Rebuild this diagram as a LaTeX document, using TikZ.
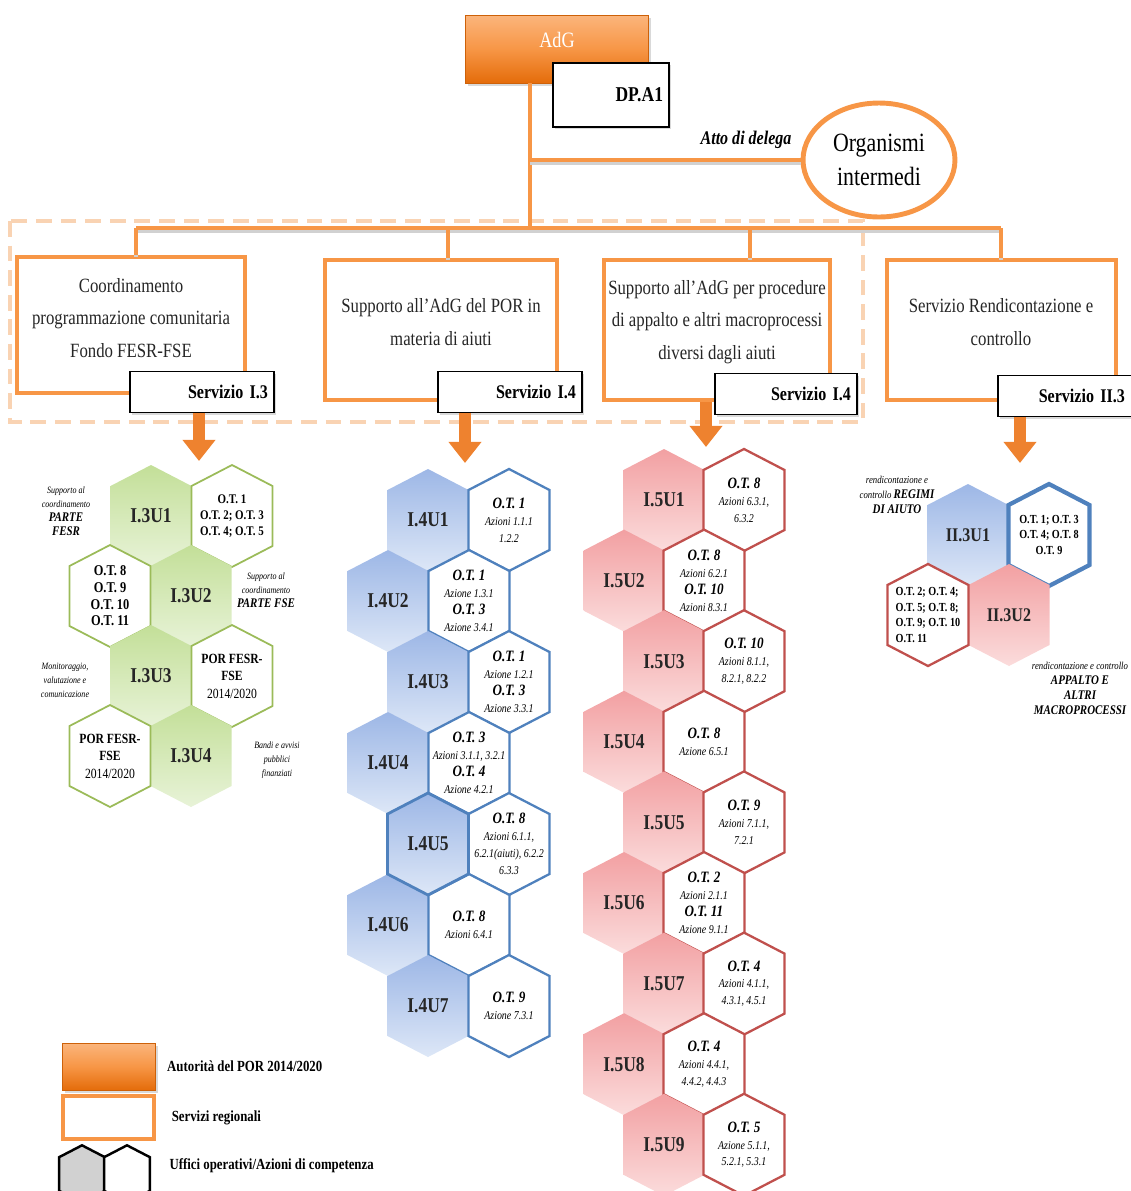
\documentclass[tikz,border=0pt]{standalone}
\usepackage{fontspec}
\setmainfont[FakeStretch=0.83]{Liberation Serif}
\usetikzlibrary{positioning,arrows.meta,shapes.geometric,shadows}

\definecolor{orgline}{HTML}{F79646}
\definecolor{orgdark}{HTML}{E46C0A}
\definecolor{orgtop}{HTML}{FBB57C}
\definecolor{orgarrow}{HTML}{EE822F}
\definecolor{dashorg}{HTML}{F9D3B3}
\definecolor{grnA}{HTML}{C3DF98}
\definecolor{grnB}{HTML}{E8F3D8}
\definecolor{grnline}{HTML}{9BBB59}
\definecolor{bluA}{HTML}{9DB7E6}
\definecolor{bluB}{HTML}{DDE7F7}
\definecolor{bluline}{HTML}{4F81BD}
\definecolor{pnkA}{HTML}{F2A0A2}
\definecolor{pnkB}{HTML}{FBDCDC}
\definecolor{pnkline}{HTML}{C0504D}

\newcommand{\hexcell}[3][]{%
  \path[shift={(#2,#3)}, #1] (0,-51) -- (40.5,-30) -- (40.5,30) -- (0,51) -- (-40.5,30) -- (-40.5,-30) -- cycle;}
\newcommand{\otnum}[1]{{\fontsize{9}{9.6}\selectfont\bfseries O.T. #1}}
\newcommand{\sidebig}[1]{{\fontsize{7.5}{9}\selectfont\bfseries #1}}

\tikzset{every picture/.style={line width=0.75pt}}
\tikzset{
  link/.style={draw=orgline, line width=2.6pt,
    preaction={draw=black!18, line width=2.6pt, transform canvas={shift={(0pt,-1.6pt)}}}},
  ufficio/.style={draw=orgline, line width=2.8pt, fill=white, inner sep=0pt,
    drop shadow={shadow xshift=1.2pt, shadow yshift=-1.2pt, opacity=0.25}},
  boxtext/.style={font=\fontsize{11.5}{18.5}\selectfont, align=center, text=black!85},
  servizio/.style={draw=black, line width=1.1pt, fill=white, align=right, inner xsep=0.12cm,
    minimum height=0.82cm, font=\fontsize{11}{13}\selectfont\bfseries,
    drop shadow={shadow xshift=1.2pt, shadow yshift=-1.2pt, opacity=0.3}},
  adgbox/.style={top color=orgtop, bottom color=orgdark, middle color=orgline,
    draw=orgdark!90!black, line width=0.5pt,
    drop shadow={shadow xshift=1.5pt, shadow yshift=-1.5pt, opacity=0.3}},
  bigarrow/.style={draw=orgarrow, line width=6.5pt, -{Triangle[width=18pt, length=12pt]}},
  grnhex/.style={top color=grnA, bottom color=grnB},
  grnwhite/.style={draw=grnline, line width=1pt, fill=white},
  bluhex/.style={top color=bluA, bottom color=bluB},
  bluwhite/.style={draw=bluline, line width=1.3pt, fill=white},
  pnkhex/.style={top color=pnkA, bottom color=pnkB},
  pnkwhite/.style={draw=pnkline, line width=1.3pt, fill=white},
  hexlabel/.style={font=\fontsize{12}{14}\selectfont\bfseries, text=black!85},
  hexnote/.style={font=\fontsize{6.8}{9.6}\selectfont\itshape, align=center, inner sep=0pt},
  sidenote/.style={font=\fontsize{5.5}{8}\selectfont\itshape, align=center, inner sep=0pt},
  legtext/.style={font=\fontsize{8.8}{10}\selectfont\bfseries}
}

\begin{document}
\begin{tikzpicture}[x=0.02cm, y=-0.02cm]
  \useasboundingbox (0,0) rectangle (1131,1191);
  \clip (0,0) rectangle (1131,1191);

  % area tratteggiata
  \draw[dashorg, line width=2pt, dash pattern=on 9pt off 5pt] (10,221) rectangle (863,422);

  % vertice
  \node[adgbox, minimum width=3.66cm, minimum height=1.36cm] (adg) at (557,49) {};
  \node[font=\fontsize{12.5}{14}\selectfont, text=white] (adgname) at (557,40) {AdG};
  \node[servizio, text width=2.08cm, minimum height=1.28cm, font=\fontsize{12}{14}\selectfont\bfseries] (dpa) at (611,95) {DP.A1};
  \node[ellipse, draw=orgline, line width=2.8pt, fill=white, minimum width=3.04cm, minimum height=2.28cm,
        align=center, inner sep=0pt, font=\fontsize{15}{19}\selectfont] (organismi) at (879,160) {Organismi\\intermedi};
  \node[font=\fontsize{11}{13}\selectfont\bfseries\itshape, anchor=east] (delega) at (798,140) {Atto di delega};

  % servizi regionali
  \node[ufficio, minimum width=4.56cm, minimum height=2.72cm] (coord) at (131,325) {};
  \node[ufficio, minimum width=4.64cm, minimum height=2.8cm] (aiuti) at (441,330) {};
  \node[ufficio, minimum width=4.52cm, minimum height=2.8cm] (appalti) at (717,330) {};
  \node[ufficio, minimum width=4.58cm, minimum height=2.8cm] (rendic) at (1001.5,330) {};
  \node[boxtext] (coordtxt) at (131,318) {Coordinamento\\programmazione comunitaria\\Fondo FESR-FSE};
  \node[boxtext] (aiutitxt) at (441,322) {Supporto all’AdG del POR in\\materia di aiuti};
  \node[boxtext] (appaltitxt) at (717,322) {Supporto all’AdG per procedure\\di appalto e altri macroprocessi\\diversi dagli aiuti};
  \node[boxtext] (rendictxt) at (1001,322) {Servizio Rendicontazione e\\controllo};
  \node[servizio, text width=2.64cm] (serv13) at (202,392) {Servizio I.3};
  \node[servizio, text width=2.64cm] (serv14) at (510,392) {Servizio I.4};
  \node[servizio, text width=2.6cm] (serv15) at (786,394) {Servizio I.4};
  \node[servizio, text width=2.24cm, inner xsep=0.3cm] (serv23) at (1069,396) {Servizio II.3};

  % collegamenti
  \coordinate (j0) at (530,160);
  \coordinate (j1) at (530,228);
  \coordinate (b1) at (136,228);
  \coordinate (b2) at (448,228);
  \coordinate (b3) at (750,228);
  \coordinate (b4) at (1001,228);
  \draw[link] (adg.south -| j1) -- (j1);
  \draw[link] (j0) -- (organismi.west);
  \draw[link] (b1) -- (b4);
  \foreach \b/\u in {b1/coord, b2/aiuti, b3/appalti, b4/rendic}
    \draw[link] (\b) -- (\b |- \u.north);

  % frecce verso gli uffici
  \coordinate (a13) at (199,461);
  \coordinate (a14) at (465,463);
  \coordinate (a15) at (706,447);
  \coordinate (a23) at (1020,463);
  \draw[bigarrow] (serv13.south -| a13) -- (a13);
  \draw[bigarrow] (serv14.south -| a14) -- (a14);
  \draw[bigarrow] (appalti.south -| a15) -- (a15);
  \draw[bigarrow] (serv23.south -| a23) -- (a23);

  % Servizio I.3
  \foreach \k [count=\n] in {0,...,3} {
    \pgfmathsetmacro\yy{516+80*\k}
    \pgfmathsetmacro\xx{isodd(\k) ? 191 : 151}
    \pgfmathsetmacro\ww{isodd(\k) ? 110 : 232}
    \hexcell[grnhex]{\xx}{\yy}
    \hexcell[grnwhite]{\ww}{\yy}
    \node[hexlabel] (i3u\n) at (\xx,\yy) {I.3U\n};
  }
  \node[hexnote, font=\fontsize{7.5}{9}\selectfont\bfseries] (i3n1) at (232,516) {O.T. 1\\O.T. 2; O.T. 3\\O.T. 4; O.T. 5};
  \node[hexnote, font=\fontsize{8.5}{9.5}\selectfont\bfseries] (i3n2) at (110,596) {O.T. 8\\O.T. 9\\O.T. 10\\O.T. 11};
  \node[hexnote, font=\fontsize{8}{10}\selectfont] (i3n3) at (232,676) {\textbf{POR FESR-}\\\textbf{FSE}\\2014/2020};
  \node[hexnote, font=\fontsize{8}{10}\selectfont] (i3n4) at (110,756) {\textbf{POR FESR-}\\\textbf{FSE}\\2014/2020};
  \node[sidenote] (i3s1) at (66,511) {Supporto al\\coordinamento\\\sidebig{PARTE}\\\sidebig{FESR}};
  \node[sidenote] (i3s2) at (266,590) {Supporto al\\coordinamento\\\sidebig{PARTE FSE}};
  \node[sidenote] (i3s3) at (65,680) {Monitoraggio,\\valutazione e\\comunicazione};
  \node[sidenote] (i3s4) at (277,760) {Bandi e avvisi\\pubblici\\finanziati};

  % Servizio I.4 - aiuti
  \foreach \k [count=\n] in {0,...,6} {
    \pgfmathsetmacro\yy{520+81*\k}
    \pgfmathsetmacro\xx{isodd(\k) ? 388 : 428}
    \hexcell[bluhex]{\xx}{\yy}
    \hexcell[bluwhite]{\xx+81}{\yy}
    \node[hexlabel] (i4u\n) at (\xx,\yy) {I.4U\n};
  }
  \hexcell[draw=bluline, line width=1.6pt]{428}{844}
  \node[hexnote] (i4n1) at (509,520) {\otnum{1}\\Azioni 1.1.1\\1.2.2};
  \node[hexnote] (i4n2) at (469,601) {\otnum{1}\\Azione 1.3.1\\\otnum{3}\\Azione 3.4.1};
  \node[hexnote] (i4n3) at (509,682) {\otnum{1}\\Azione 1.2.1\\\otnum{3}\\Azione 3.3.1};
  \node[hexnote] (i4n4) at (469,763) {\otnum{3}\\Azioni 3.1.1, 3.2.1\\\otnum{4}\\Azione 4.2.1};
  \node[hexnote] (i4n5) at (509,844) {\otnum{8}\\Azioni 6.1.1,\\6.2.1(aiuti), 6.2.2\\6.3.3};
  \node[hexnote] (i4n6) at (469,925) {\otnum{8}\\Azioni 6.4.1};
  \node[hexnote] (i4n7) at (509,1006) {\otnum{9}\\Azione 7.3.1};

  % Servizio I.4 - appalti
  \foreach \k [count=\n] in {0,...,8} {
    \pgfmathsetmacro\yy{500+80.6*\k}
    \pgfmathsetmacro\xx{isodd(\k) ? 624 : 664}
    \hexcell[pnkhex]{\xx}{\yy}
    \hexcell[pnkwhite]{\xx+80}{\yy}
    \node[hexlabel] (i5u\n) at (\xx,\yy) {I.5U\n};
  }
  \node[hexnote] (i5n1) at (744,500) {\otnum{8}\\Azioni 6.3.1,\\6.3.2};
  \node[hexnote] (i5n2) at (704,580.6) {\otnum{8}\\Azioni 6.2.1\\\otnum{10}\\Azioni 8.3.1};
  \node[hexnote] (i5n3) at (744,661.2) {\otnum{10}\\Azioni 8.1.1,\\8.2.1, 8.2.2};
  \node[hexnote] (i5n4) at (704,741.8) {\otnum{8}\\Azione 6.5.1};
  \node[hexnote] (i5n5) at (744,822.4) {\otnum{9}\\Azioni 7.1.1,\\7.2.1};
  \node[hexnote] (i5n6) at (704,903) {\otnum{2}\\Azioni 2.1.1\\\otnum{11}\\Azione 9.1.1};
  \node[hexnote] (i5n7) at (744,983.6) {\otnum{4}\\Azioni 4.1.1,\\4.3.1, 4.5.1};
  \node[hexnote] (i5n8) at (704,1064.2) {\otnum{4}\\Azioni 4.4.1,\\4.4.2, 4.4.3};
  \node[hexnote] (i5n9) at (744,1144.8) {\otnum{5}\\Azione 5.1.1,\\5.2.1, 5.3.1};

  % Servizio II.3
  \hexcell[bluhex]{968}{535}
  \hexcell[bluwhite, line width=2.4pt]{1049}{535}
  \hexcell[pnkhex]{1009}{615}
  \hexcell[pnkwhite]{928}{615}
  \node[hexlabel, font=\fontsize{11}{13}\selectfont\bfseries] (ii3u1) at (968,535) {II.3U1};
  \node[hexlabel, font=\fontsize{11}{13}\selectfont\bfseries] (ii3u2) at (1009,615) {II.3U2};
  \node[hexnote, font=\fontsize{7}{9}\selectfont\bfseries] (ii3n1) at (1049,535) {O.T. 1; O.T. 3\\O.T. 4; O.T. 8\\O.T. 9};
  \node[hexnote, font=\fontsize{7}{9}\selectfont\bfseries, align=left] (ii3n2) at (928,615) {O.T. 2; O.T. 4;\\O.T. 5; O.T. 8;\\O.T. 9; O.T. 10\\O.T. 11};
  \node[sidenote, font=\fontsize{6}{8.5}\selectfont\itshape] (ii3s1) at (897,495) {rendicontazione e\\controllo \sidebig{REGIMI}\\\sidebig{DI AIUTO}};
  \node[sidenote, font=\fontsize{6}{8.5}\selectfont\itshape] (ii3s2) at (1080,688) {rendicontazione e controllo\\\sidebig{APPALTO E}\\\sidebig{ALTRI}\\\sidebig{MACROPROCESSI}};

  % legenda
  \node[adgbox, minimum width=1.86cm, minimum height=0.94cm] (legadg) at (108.5,1066.5) {};
  \node[legtext, right=3pt of legadg] (legadgtxt) {Autorità del POR 2014/2020};
  \node[ufficio, minimum width=1.82cm, minimum height=0.86cm] (legserv) at (108.5,1117.5) {};
  \node[legtext, right=5pt of legserv] (legservtxt) {Servizi regionali};
  \hexcell[scale=0.5625, fill=black!18, draw=black, line width=1.4pt]{82}{1174}
  \hexcell[scale=0.5625, fill=white, draw=black, line width=1.4pt]{127}{1174}
  \node[legtext, anchor=west] (leghextxt) at (163,1166) {Uffici operativi/Azioni di competenza};
\end{tikzpicture}
\end{document}
